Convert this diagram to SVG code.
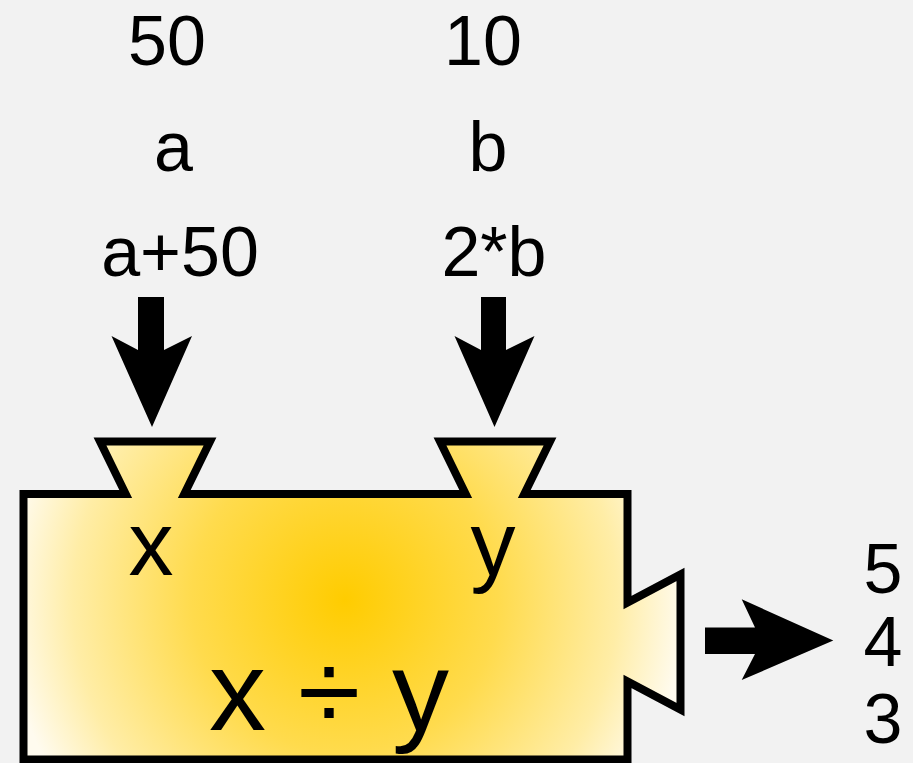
<svg xmlns="http://www.w3.org/2000/svg" width="913" height="763" viewBox="0 0 913 763">
<style>
.lbl{font-family:"Liberation Sans",Arial,sans-serif;fill:#000;text-anchor:middle}
.in{font-size:70px}
.var{font-size:90px}
.op{font-size:114px}
.arrow{fill:#000;stroke:none}
.block{fill:url(#gold);stroke:#000;stroke-width:8;stroke-linejoin:miter;stroke-miterlimit:10}
</style>
<defs>
<radialGradient id="gold" gradientUnits="userSpaceOnUse" cx="345" cy="600" r="340">
<stop offset="0" stop-color="#FFCC00"/>
<stop offset="0.45" stop-color="#FFDB4D"/>
<stop offset="0.8" stop-color="#FFEDA6"/>
<stop offset="1" stop-color="#FFFBEF"/>
</radialGradient>
</defs>
<rect x="0" y="0" width="913" height="763" fill="#F2F2F2"/>
<g id="inputs-a">
<text class="lbl in" x="167" y="65">50</text>
<text class="lbl in" x="173.5" y="171">a</text>
<text class="lbl in" x="180" y="276">a+50</text>
</g>
<g id="inputs-b">
<text class="lbl in" x="483" y="65">10</text>
<text class="lbl in" x="488" y="171">b</text>
<text class="lbl in" x="494" y="276">2*b</text>
</g>
<g id="divide-block">
<path class="block" d="M23.5,494 H125.7 L100,441.5 H210 L184.3,494 H465.7 L440,441.5 H550 L524.3,494 H627.5 V602.5 L680.5,574.5 V709.5 L627.5,681.5 V759.5 H23.5 Z"/>
<text class="lbl var" x="151" y="575">x</text>
<text class="lbl var" x="493" y="575">y</text>
<text class="lbl op" x="329" y="730">x ÷ y</text>
</g>
<g id="outputs">
<text class="lbl in" x="883" y="593">5</text>
<text class="lbl in" x="883" y="666">4</text>
<text class="lbl in" x="883" y="743">3</text>
</g>
<g id="connectors">
<polygon class="arrow" points="138,297 164,297 164,350 192,336 152,427 111.5,336 138,350"/>
<polygon class="arrow" points="481,297 506,297 506,350 534.5,336 494.5,427 454.5,336 481,350"/>
<polygon class="arrow" points="705,627.5 755,627.5 741.7,599.3 833.3,640.5 741.7,680 755,654 705,654"/>
</g>
</svg>
